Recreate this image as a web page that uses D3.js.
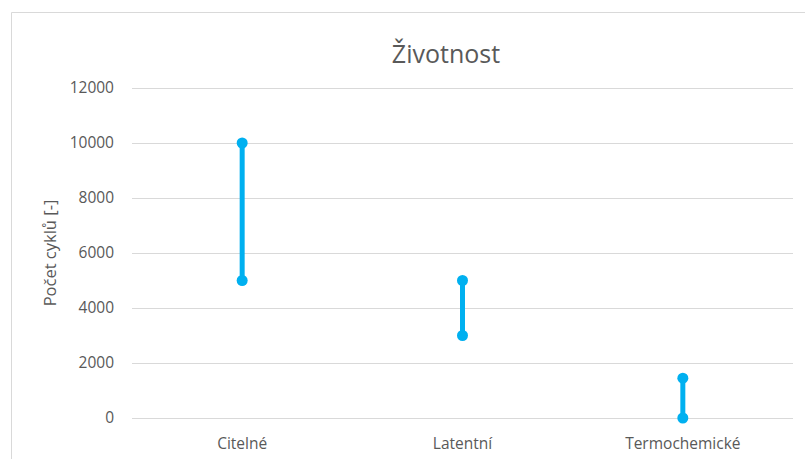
<!DOCTYPE html>
<html>
<head>
<meta charset="utf-8">
<script src="https://cdn.jsdelivr.net/npm/d3@7"></script>
<style>
  html, body { margin: 0; padding: 0; background: #fff; }
  svg { display: block; font-family: "Open Sans", "Noto Sans", sans-serif; }
</style>
</head>
<body>
<svg id="chart" width="805" height="459"></svg>
<script>
// Lifetime ranges (number of cycles) per storage type
const categories = ["Citelné", "Latentní", "Termochemické"];
const minCycles = [5000, 3000, 0];
const maxCycles = [10000, 5000, 1450];
const yTicks = [0, 2000, 4000, 6000, 8000, 10000, 12000];
const titleText = "Životnost";
const yLabel = "Počet cyklů [-]";

const svg = d3.select("#chart");
const margin = { left: 132, right: 12, top: 88, bottom: 41 };
const W = 805, H = 459;
const grey = "#595959";

// Outer frame (top and left edges visible)
svg.append("path")
  .attr("d", `M11.5,${H} V12.5 H${W}`)
  .attr("fill", "none")
  .attr("stroke", "#d9d9d9")
  .attr("stroke-width", 1);

const x = d3.scaleBand()
  .domain(categories)
  .range([margin.left, W - margin.right])
  .padding(0);

const y = d3.scaleLinear()
  .domain([0, 12000])
  .range([H - margin.bottom, margin.top]);

// Horizontal gridlines
svg.append("g")
  .selectAll("line")
  .data(yTicks)
  .join("line")
  .attr("x1", margin.left)
  .attr("x2", W - margin.right)
  .attr("y1", d => Math.round(y(d)) + 0.5)
  .attr("y2", d => Math.round(y(d)) + 0.5)
  .attr("stroke", "#d9d9d9")
  .attr("stroke-width", 1);

// Y axis labels
const yAxis = d3.axisLeft(y).tickValues(yTicks).tickFormat(d3.format("d")).tickSize(0).tickPadding(0);
const gy = svg.append("g")
  .attr("transform", `translate(${margin.left - 18},0)`)
  .call(yAxis);
gy.select(".domain").remove();
gy.selectAll("text")
  .attr("fill", grey)
  .attr("font-size", 15.5)
  .attr("font-family", "'Open Sans', sans-serif");

// X axis labels
const xAxis = d3.axisBottom(x).tickSize(0).tickPadding(0);
const gx = svg.append("g")
  .attr("transform", `translate(0,${H - margin.bottom + 20})`)
  .call(xAxis);
gx.select(".domain").remove();
gx.selectAll("text")
  .attr("fill", grey)
  .attr("font-size", 15.5)
  .attr("font-family", "'Open Sans', sans-serif");

// Range bars
const data = categories.map((c, i) => ({ c, lo: minCycles[i], hi: maxCycles[i] }));
const color = "#00b0f0";
const g = svg.append("g");
g.selectAll("line.range")
  .data(data)
  .join("line")
  .attr("class", "range")
  .attr("x1", d => x(d.c) + x.bandwidth() / 2)
  .attr("x2", d => x(d.c) + x.bandwidth() / 2)
  .attr("y1", d => y(d.lo))
  .attr("y2", d => y(d.hi))
  .attr("stroke", color)
  .attr("stroke-width", 5);

const points = data.flatMap(d => [{ c: d.c, v: d.lo }, { c: d.c, v: d.hi }]);
g.selectAll("circle")
  .data(points)
  .join("circle")
  .attr("cx", d => x(d.c) + x.bandwidth() / 2)
  .attr("cy", d => y(d.v))
  .attr("r", 5.5)
  .attr("fill", color);

// Title
svg.append("text")
  .attr("x", 446)
  .attr("y", 63)
  .attr("text-anchor", "middle")
  .attr("fill", grey)
  .attr("font-size", 25)
  .text(titleText);

// Y axis title
svg.append("text")
  .attr("transform", `translate(56,${(y(0) + y(12000)) / 2}) rotate(-90)`)
  .attr("text-anchor", "middle")
  .attr("fill", grey)
  .attr("font-size", 16.5)
  .text(yLabel);
</script>
</body>
</html>
